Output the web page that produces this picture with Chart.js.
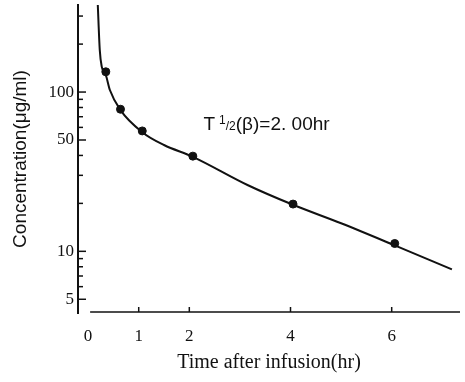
<!DOCTYPE html>
<html>
<head>
<meta charset="utf-8">
<script src="https://cdn.jsdelivr.net/npm/chart.js@4"></script>
<style>
  html, body { margin: 0; padding: 0; background: #fff; }
  #wrap { width: 465px; height: 382px; }
</style>
</head>
<body>
<div id="wrap"><canvas id="c"></canvas></div>
<script>
// measured points
const timeHr = [0.35, 0.64, 1.07, 2.07, 4.05, 6.06];
const conc   = [134, 78, 57, 39.6, 19.8, 11.2];

// fitted curve
const curveT = [0.19, 0.23, 0.27, 0.35, 0.43, 0.64, 1.07, 1.5, 2.07, 3.16, 4.05, 5.0, 6.06, 7.19];
const curveC = [360, 184, 144, 128, 103, 77, 56, 46.5, 39.2, 26, 19.6, 15, 10.9, 7.7];

const xTicks = [0, 1, 2, 4, 6];
const yLabels = [5, 10, 50, 100];
const yMinor = [6, 7, 8, 9, 20, 30, 40, 60, 70, 80, 90, 200, 300];

const ink = '#111';
const serif = '"Liberation Serif", "DejaVu Serif", serif';
const sans = '"Liberation Sans", "DejaVu Sans", sans-serif';

const axesPlugin = {
  id: 'axes',
  afterDraw(chart) {
    const { ctx, chartArea, scales: { x, y } } = chart;
    ctx.save();
    ctx.strokeStyle = ink;
    // y axis
    ctx.lineWidth = 2;
    ctx.beginPath();
    ctx.moveTo(chartArea.left, chartArea.top - 1);
    ctx.lineTo(chartArea.left, chartArea.bottom + 1);
    ctx.stroke();
    ctx.lineWidth = 1.5;
    yLabels.forEach(v => {
      const py = y.getPixelForValue(v);
      ctx.beginPath(); ctx.moveTo(chartArea.left, py); ctx.lineTo(chartArea.left + 8, py); ctx.stroke();
    });
    yMinor.forEach(v => {
      const py = y.getPixelForValue(v);
      ctx.beginPath(); ctx.moveTo(chartArea.left, py); ctx.lineTo(chartArea.left + 5, py); ctx.stroke();
    });
    // x axis
    const by = chartArea.bottom - 1;
    ctx.lineWidth = 1.5;
    ctx.beginPath();
    ctx.moveTo(x.getPixelForValue(0) + 2, by);
    ctx.lineTo(chartArea.right, by);
    ctx.stroke();
    xTicks.filter(v => v > 0).forEach(v => {
      const px = x.getPixelForValue(v);
      ctx.beginPath(); ctx.moveTo(px, by); ctx.lineTo(px, by - 5); ctx.stroke();
    });
    // half-life note
    let tx = x.getPixelForValue(2.28);
    const ty = y.getPixelForValue(62);
    ctx.fillStyle = ink;
    ctx.textBaseline = 'middle';
    ctx.font = '19px ' + sans;
    ctx.fillText('T', tx, ty);
    tx += ctx.measureText('T').width + 4;
    ctx.font = '12px ' + sans;
    ctx.fillText('1', tx, ty - 4);
    tx += ctx.measureText('1').width;
    ctx.fillText('/2', tx, ty + 2);
    tx += ctx.measureText('/2').width;
    ctx.font = '19px ' + sans;
    ctx.fillText('(\u03B2)=2. 00hr', tx, ty);
    ctx.restore();
  }
};

new Chart(document.getElementById('c'), {
  type: 'scatter',
  data: {
    datasets: [
      {
        type: 'line',
        data: curveT.map((t, i) => ({ x: t, y: curveC[i] })),
        borderColor: ink,
        borderWidth: 2,
        pointRadius: 0,
        cubicInterpolationMode: 'monotone',
        clip: 0
      },
      {
        data: timeHr.map((t, i) => ({ x: t, y: conc[i] })),
        backgroundColor: ink,
        borderColor: ink,
        pointRadius: 4
      }
    ]
  },
  options: {
    responsive: true,
    maintainAspectRatio: false,
    animation: false,
    layout: { padding: { top: 5, right: 0, left: 0, bottom: 0 } },
    plugins: { legend: { display: false }, tooltip: { enabled: false } },
    scales: {
      x: {
        type: 'linear',
        min: -0.2, max: 7.35,
        border: { display: false },
        grid: { display: false, drawTicks: false },
        afterBuildTicks: s => { s.ticks = xTicks.map(v => ({ value: v })); },
        afterFit: s => { s.height = 69; s.paddingLeft = 0; s.paddingRight = 0; },
        ticks: { padding: 13, color: ink, font: { family: serif, size: 17 }, maxRotation: 0 },
        title: {
          display: true, text: 'Time after infusion(hr)', color: ink,
          font: { family: serif, size: 20 }, padding: { top: 0, bottom: 7 }
        }
      },
      y: {
        type: 'logarithmic',
        min: 4.1, max: 352,
        border: { display: false },
        grid: { display: false, drawTicks: false },
        afterBuildTicks: s => { s.ticks = yLabels.map(v => ({ value: v })); },
        afterFit: s => { s.width = 78; s.paddingTop = 0; s.paddingBottom = 0; },
        ticks: { padding: 4, color: ink, font: { family: serif, size: 17 }, callback: v => String(v) },
        title: {
          display: true, text: 'Concentration(\u03BCg/ml)', color: ink,
          font: { family: sans, size: 19 }, padding: { top: 9, bottom: 10 }
        }
      }
    }
  },
  plugins: [axesPlugin]
});
</script>
</body>
</html>
